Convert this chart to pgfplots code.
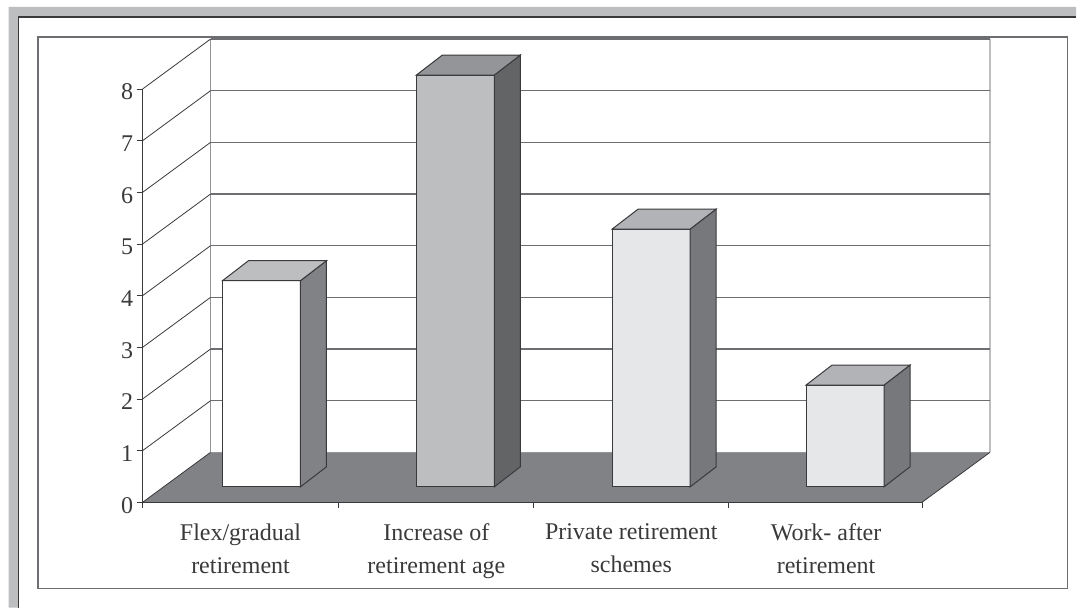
\documentclass[border=0pt]{standalone}
\usepackage{pgfplots}
\pgfplotsset{compat=1.18}
\usepackage{fontspec}
\setmainfont{Liberation Serif}
\definecolor{band}{HTML}{BCBEC0}
\definecolor{floorc}{HTML}{808285}
\definecolor{ink}{HTML}{3A3A3C}
\definecolor{wall}{HTML}{939598}
\definecolor{gridc}{HTML}{6D6E71}
\begin{document}
\begin{tikzpicture}
\begin{axis}[
  scale only axis, width=780pt, height=413.6pt,
  xmin=142, xmax=922, ymin=0, ymax=8,
  clip=false, axis on top,
  axis lines*=left,
  axis line style={ink, line width=1pt},
  tick style={ink, line width=0.8pt},
  tick align=outside,
  major tick length=6pt,
  xtick={142,338,533,728,922},
  xticklabels={},
  ytick={0,1,2,3,4,5,6,7,8},
  yticklabel style={/pgf/number format/assume math mode=true, font=\fontsize{24}{28}\selectfont, text=ink, yshift=-3pt},
  extra x ticks={240,436,631,826},
  extra x tick labels={{Flex/gradual\\retirement},{Increase of\\retirement age},{Private retirement\\schemes},{Work- after\\retirement}},
  extra x tick style={major tick length=0pt, tick style={draw=none},
    xticklabel style={align=center, font=\fontsize{24}{33}\selectfont, text=ink, yshift=-18pt}},
]
% page extent
\addplot[draw=none, fill=white] coordinates {(-0.7,-2.037)(1076.3,-2.037)(1076.3,9.723)(-0.7,9.723)} --cycle;
% outer band
\addplot[draw=none, fill=band] coordinates {(8,-2.037)(18,-2.037)(18,9.394)(1076.3,9.394)(1076.3,9.588)(8,9.588)} --cycle;
\addplot[ink, line width=1.6pt] coordinates {(18,-2.037)(18,9.394)(1076.3,9.394)};
% inner frame
\addplot[gridc, line width=1.5pt] coordinates {(37.5,-1.669)(1067.5,-1.669)(1067.5,9.008)(37.5,9.008)} --cycle;
% floor
\addplot[fill=floorc, draw=none] coordinates {(142,0)(922,0)(990,0.967)(210,0.967)} --cycle;
\addplot[wall, line width=0.8pt] coordinates {(210,0.967)(990,0.967)};
\addplot[ink, line width=0.8pt] coordinates {(142,0)(210,0.967)};
\addplot[ink, line width=0.8pt] coordinates {(922,0)(990,0.967)};
% back wall
\addplot[wall, line width=1.3pt] coordinates {(210,0.967)(210,8.967)};
\addplot[band, line width=1.3pt] coordinates {(990,0.967)(990,8.967)};
% grid lines
\foreach \v/\w in {1/1.967,2/2.967,3/3.967,4/4.967,5/5.967,6/6.967,7/7.967,8/8.967}{
  \edef\temp{\noexpand\addplot[ink, line width=0.8pt] coordinates {(142,\v)(210,\w)};
    \noexpand\addplot[gridc, line width=1.2pt] coordinates {(210,\w)(990,\w)};}
  \temp
}
% bar 1: Flex/gradual retirement = 4
\addplot[fill=white, draw=ink, line width=1pt] coordinates {(222,0.30)(300,0.30)(300,4.29)(222,4.29)} --cycle;
\addplot[fill=floorc, draw=ink, line width=1pt] coordinates {(300,0.30)(326,0.687)(326,4.677)(300,4.29)} --cycle;
\addplot[fill=band, draw=ink, line width=1pt] coordinates {(222,4.29)(300,4.29)(326,4.677)(248,4.677)} --cycle;
% bar 2: Increase of retirement age = 8
\addplot[fill=band, draw=ink, line width=1pt] coordinates {(416,0.30)(494,0.30)(494,8.27)(416,8.27)} --cycle;
\addplot[fill={rgb,255:red,99;green,100;blue,102}, draw=ink, line width=1pt] coordinates {(494,0.30)(520,0.687)(520,8.657)(494,8.27)} --cycle;
\addplot[fill=wall, draw=ink, line width=1pt] coordinates {(416,8.27)(494,8.27)(520,8.657)(442,8.657)} --cycle;
% bar 3: Private retirement schemes = 5
\addplot[fill={rgb,255:red,230;green,231;blue,232}, draw=ink, line width=1pt] coordinates {(612,0.30)(690,0.30)(690,5.29)(612,5.29)} --cycle;
\addplot[fill={rgb,255:red,119;green,120;blue,123}, draw=ink, line width=1pt] coordinates {(690,0.30)(716,0.687)(716,5.677)(690,5.29)} --cycle;
\addplot[fill={rgb,255:red,177;green,179;blue,182}, draw=ink, line width=1pt] coordinates {(612,5.29)(690,5.29)(716,5.677)(638,5.677)} --cycle;
% bar 4: Work- after retirement = 2
\addplot[fill={rgb,255:red,230;green,231;blue,232}, draw=ink, line width=1pt] coordinates {(806,0.30)(884,0.30)(884,2.27)(806,2.27)} --cycle;
\addplot[fill={rgb,255:red,119;green,120;blue,123}, draw=ink, line width=1pt] coordinates {(884,0.30)(910,0.687)(910,2.657)(884,2.27)} --cycle;
\addplot[fill={rgb,255:red,177;green,179;blue,182}, draw=ink, line width=1pt] coordinates {(806,2.27)(884,2.27)(910,2.657)(832,2.657)} --cycle;
\end{axis}
\end{tikzpicture}
\end{document}
